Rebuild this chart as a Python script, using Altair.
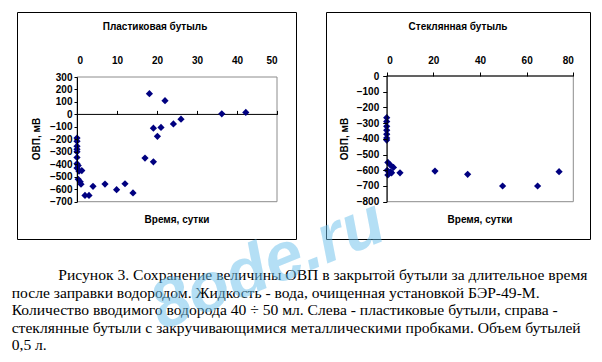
import altair as alt
import pandas as pd

# ---------------- data ----------------
plastic_days = [0, 0, 0, 0, 0, 0, 0, 0.3, 0, 0.5, 1.2, 0.3, 0.8, 1.0, 2.0, 3.0, 4.0, 7.0,
                9.9, 12.0, 14.0, 17.0, 19.1, 18.1, 22.0, 19.1, 21.0, 20.1, 24.1, 26.0, 36.2, 42.2]
plastic_orp = [-190, -215, -255, -280, -300, -345, -395, -410, -430, -455, -450, -520, -540, -560,
               -650, -650, -577, -559, -604, -556, -630, -350, -380, 166, 110, -110, -104, -176,
               -76, -38, 5, 16]

glass_days = [0, 0, 0, 0, 0, 0, 0, 0.5, 1.5, 2.9, 0.2, 1.6, 0.5, 2.1, 5.7, 20.7, 34.7, 49.7, 64.7, 73.9]
glass_orp = [-265, -290, -320, -345, -370, -395, -408, -550, -565, -582, -600, -610, -630, -616,
             -616, -605, -626, -700, -700, -609]

plastic_xticks = [0, 10, 20, 30, 40, 50]
plastic_yticks = [300, 200, 100, 0, -100, -200, -300, -400, -500, -600, -700]
glass_xticks = [0, 20, 40, 60, 80]
glass_yticks = [0, -100, -200, -300, -400, -500, -600, -700, -800]

title_left = "Пластиковая бутыль"
title_right = "Стеклянная бутыль"
x_title = "Время, сутки"
y_title = "ОВП, мВ"

caption_lines = [
    "Рисунок 3. Сохранение величины ОВП в закрытой бутыли за длительное время",
    "после заправки водородом. Жидкость - вода, очищенная установкой БЭР-49-М.",
    "Количество вводимого водорода 40 ÷ 50 мл.  Слева - пластиковые бутыли, справа -",
    "стеклянные бутыли с закручивающимися металлическими пробками.  Объем бутылей",
    "0,5 л.",
]
watermark = "8ode.ru"

# ---------------- styling ----------------
W, H = 586, 346
SANS = "Liberation Sans"
SERIF = "Liberation Serif"
NAVY = "#000080"
one = pd.DataFrame({"k": [0]})

df_l = pd.DataFrame({"day": plastic_days, "orp": plastic_orp})
df_r = pd.DataFrame({"day": glass_days, "orp": glass_orp})


def text_layer(txt, x, y, size=10, weight="bold", font=SANS, angle=0, align="center",
               baseline="middle"):
    kw = dict(text=txt, font=font, fontSize=size, fontWeight=weight, color="black",
              align=align, baseline=baseline)
    if angle:
        kw["angle"] = angle
    return alt.Chart(one).mark_text(**kw).encode(x=alt.value(x), y=alt.value(y))


def panel(df, xdom, ydom, xr, yr, xticks, yticks, frame, title, title_x, ytitle_x, xtitle_x,
          ytick_size, ylabel_pad):
    XS = alt.Scale(domain=xdom, range=xr, nice=False, zero=False)
    YS = alt.Scale(domain=ydom, range=yr, nice=False, zero=False)
    # y pixel of value 0
    y0 = yr[0] + (0 - ydom[0]) / (ydom[1] - ydom[0]) * (yr[1] - yr[0])

    outer = alt.Chart(one).mark_rect(filled=False, stroke="black", strokeWidth=1).encode(
        x=alt.value(frame[0]), x2=alt.value(frame[1]),
        y=alt.value(frame[2]), y2=alt.value(frame[3]))

    box = alt.Chart(one).mark_rect(filled=False, stroke="#8c8c8c", strokeWidth=1).encode(
        x=alt.X(datum=xdom[0], type="quantitative", scale=XS, axis=None),
        x2=alt.X2(datum=xdom[1]),
        y=alt.Y(datum=ydom[0], type="quantitative", scale=YS, axis=None),
        y2=alt.Y2(datum=ydom[1]))

    zero = alt.Chart(one).mark_rule(color="black", strokeWidth=1).encode(
        x=alt.X(datum=xdom[0], type="quantitative", scale=XS,
                axis=alt.Axis(orient="top", offset=-y0, values=xticks, labels=False,
                              domain=False, ticks=True, tickSize=4, tickColor="black",
                              grid=False, title=None, zindex=1)),
        x2=alt.X2(datum=xdom[1]),
        y=alt.Y(datum=0, type="quantitative", scale=YS, axis=None))

    pts = alt.Chart(df).mark_point(shape="diamond", filled=True, color=NAVY, size=52,
                                   opacity=1).encode(
        x=alt.X("day:Q", scale=XS,
                axis=alt.Axis(orient="top", offset=-57, values=xticks, domain=False,
                              ticks=False, tickSize=0, labelPadding=0, grid=False,
                              title=None, labelBaseline="bottom", zindex=1)),
        y=alt.Y("orp:Q", scale=YS,
                axis=alt.Axis(orient="left", offset=-xr[0], values=yticks, domain=True,
                              domainColor="black", ticks=True, tickSize=ytick_size,
                              tickColor="black", labelPadding=ylabel_pad, grid=False,
                              title=None, zindex=1)))

    ttl = text_layer(title, title_x, 19)
    yt = text_layer(y_title, ytitle_x, 131, angle=270)
    xt = text_layer(x_title, xtitle_x, 212)
    return [outer, box, zero, pts, ttl, yt, xt]


left = panel(df_l, [0, 50], [-700, 300], [69, 269], [193.7, 69], plastic_xticks, plastic_yticks,
             (9.5, 288.5, 4.5, 231.5), title_left, 147, 29, 169, 3, 2)
right = panel(df_r, [0, 80], [-800, 0], [378.7, 565.3], [193.7, 68], glass_xticks, glass_yticks,
              (318.5, 582.5, 4.5, 231.5), title_right, 450, 337, 472, 4, 4)

cap = []
cap_y = [272.3, 289.8, 307.3, 324.8, 342.3]
for i, line in enumerate(caption_lines):
    cap.append(text_layer(line, 50.3 if i == 0 else 3.7, cap_y[i], size=15.6, weight="normal",
                          font=SERIF, align="left", baseline="alphabetic"))

wm = alt.Chart(one).mark_text(text=watermark, font=SANS, fontSize=68, fontWeight="bold",
                              fontStyle="italic", color="#6cc0ec", opacity=0.5, angle=338,
                              align="center", baseline="middle").encode(
    x=alt.value(260), y=alt.value(258))

chart = alt.layer(*left, *right, *cap, wm).resolve_scale(
    x="independent", y="independent").resolve_axis(
    x="independent", y="independent").properties(
    width=W, height=H, autosize=alt.AutoSizeParams(type="none"), padding=0,
    background="white").configure_view(stroke=None).configure_axis(
    labelFont=SANS, labelFontSize=10, labelFontWeight="bold", labelColor="black")

chart.save("out.html", embed_options={"renderer": "svg", "actions": False})
